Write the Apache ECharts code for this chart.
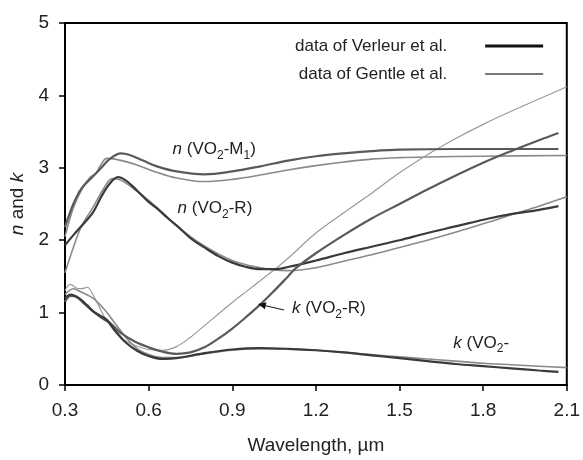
<!DOCTYPE html>
<html>
<head>
<meta charset="utf-8">
<script src="https://cdn.jsdelivr.net/npm/echarts@6/dist/echarts.min.js"></script>
<style>html,body{margin:0;padding:0;background:#fff}#c{width:583px;height:460px}</style>
</head>
<body>
<div id="c"></div>
<script>
// ---- data (wavelength in µm, value) ----
const xTicks = [0.3, 0.6, 0.9, 1.2, 1.5, 1.8, 2.1];
const yTicks = [0, 1, 2, 3, 4, 5];

const verleurNR = [[0.30,1.93],[0.33,2.07],[0.36,2.2],[0.40,2.38],[0.43,2.6],[0.46,2.78],[0.49,2.87],[0.52,2.82],[0.56,2.68],[0.60,2.53],[0.63,2.44],[0.67,2.3],[0.71,2.17],[0.75,2.03],[0.80,1.9],[0.85,1.78],[0.90,1.69],[0.95,1.63],[1.00,1.6],[1.05,1.6],[1.10,1.63],[1.20,1.72],[1.30,1.82],[1.40,1.91],[1.50,2.0],[1.60,2.1],[1.70,2.19],[1.82,2.3],[1.90,2.36],[2.00,2.42],[2.07,2.47]];
const gentleNR = [[0.30,1.55],[0.33,1.9],[0.36,2.2],[0.40,2.45],[0.44,2.72],[0.47,2.85],[0.50,2.83],[0.55,2.7],[0.60,2.55],[0.65,2.38],[0.70,2.2],[0.75,2.05],[0.80,1.92],[0.85,1.81],[0.90,1.72],[0.95,1.66],[1.00,1.62],[1.05,1.59],[1.10,1.58],[1.20,1.62],[1.30,1.71],[1.40,1.8],[1.50,1.9],[1.60,2.0],[1.70,2.11],[1.82,2.25],[1.90,2.35],[2.00,2.47],[2.10,2.6]];
const verleurNM = [[0.30,2.18],[0.33,2.5],[0.36,2.72],[0.40,2.88],[0.43,3.0],[0.46,3.12],[0.50,3.2],[0.53,3.18],[0.58,3.1],[0.63,3.02],[0.70,2.95],[0.80,2.91],[0.90,2.95],[1.00,3.02],[1.10,3.1],[1.20,3.16],[1.30,3.2],[1.40,3.23],[1.50,3.25],[1.70,3.26],[1.90,3.26],[2.07,3.26]];
const gentleNM = [[0.30,2.05],[0.33,2.45],[0.36,2.7],[0.39,2.87],[0.41,2.92],[0.43,3.05],[0.45,3.13],[0.48,3.12],[0.55,3.05],[0.62,2.95],[0.70,2.86],[0.80,2.81],[0.90,2.84],[1.00,2.9],[1.10,2.97],[1.20,3.03],[1.30,3.08],[1.40,3.12],[1.50,3.14],[1.60,3.15],[1.80,3.16],[2.10,3.17]];
const verleurKR = [[0.30,1.15],[0.32,1.23],[0.34,1.22],[0.37,1.12],[0.40,1.02],[0.43,0.93],[0.46,0.86],[0.50,0.72],[0.55,0.6],[0.60,0.52],[0.65,0.46],[0.70,0.43],[0.75,0.45],[0.80,0.52],[0.85,0.64],[0.90,0.78],[0.95,0.94],[1.00,1.11],[1.05,1.3],[1.10,1.5],[1.13,1.62],[1.20,1.82],[1.30,2.07],[1.40,2.3],[1.50,2.5],[1.60,2.7],[1.70,2.89],[1.80,3.07],[1.90,3.23],[2.00,3.38],[2.07,3.48]];
const gentleKR = [[0.30,1.3],[0.31,1.37],[0.32,1.39],[0.34,1.34],[0.36,1.33],[0.38,1.35],[0.40,1.25],[0.42,1.1],[0.44,0.95],[0.47,0.78],[0.50,0.65],[0.55,0.55],[0.60,0.49],[0.65,0.48],[0.70,0.53],[0.75,0.66],[0.80,0.82],[0.85,0.98],[0.90,1.14],[0.95,1.29],[1.00,1.44],[1.06,1.62],[1.10,1.75],[1.20,2.1],[1.30,2.38],[1.40,2.65],[1.50,2.93],[1.60,3.18],[1.70,3.4],[1.80,3.6],[1.90,3.78],[2.00,3.95],[2.10,4.12]];
const verleurKM = [[0.30,1.2],[0.32,1.25],[0.35,1.2],[0.38,1.1],[0.40,1.02],[0.42,0.97],[0.45,0.9],[0.48,0.75],[0.52,0.58],[0.56,0.47],[0.60,0.4],[0.65,0.36],[0.70,0.37],[0.80,0.44],[0.90,0.49],[1.00,0.51],[1.10,0.5],[1.20,0.48],[1.30,0.45],[1.40,0.41],[1.50,0.37],[1.60,0.33],[1.70,0.29],[1.80,0.26],[1.90,0.23],[2.00,0.2],[2.07,0.18]];
const gentleKM = [[0.30,1.25],[0.33,1.33],[0.36,1.28],[0.40,1.2],[0.44,1.05],[0.48,0.85],[0.52,0.65],[0.56,0.5],[0.60,0.42],[0.65,0.38],[0.70,0.38],[0.80,0.43],[0.90,0.48],[1.00,0.5],[1.10,0.5],[1.20,0.48],[1.30,0.45],[1.40,0.42],[1.50,0.39],[1.60,0.36],[1.70,0.33],[1.80,0.3],[1.90,0.28],[2.00,0.26],[2.10,0.24]];

const nameV = 'data of Verleur et al.';
const nameG = 'data of Gentle et al.';

// annotation anchors (data coordinates)
const labelAnchors = [
  {text: '{i|n} (VO{s|2}-M{s|1})', at: [0.686, 3.25]},
  {text: '{i|n} (VO{s|2}-R)', at: [0.704, 2.44]},
  {text: '{i|k} (VO{s|2}-R)', at: [1.114, 1.06]},
  {text: '{i|k} (VO{s|2}-', at: [1.693, 0.58]}
];
const arrowFrom = [1.086, 1.036];
const arrowTo = [0.992, 1.12];

const FONT = '"Liberation Sans", Arial, sans-serif';
const chart = echarts.init(document.getElementById('c'));

function mk(name, data, color, width) {
  return {type: 'line', name, data, smooth: 0.35, showSymbol: false, symbol: 'none',
    lineStyle: {color, width}, itemStyle: {color}, silent: true, z: 3};
}

chart.setOption({
  animation: false,
  backgroundColor: '#fff',
  textStyle: {fontFamily: FONT, color: '#222'},
  grid: {left: 65, right: 14, top: 23, bottom: 75, show: true, borderColor: '#000', borderWidth: 2, backgroundColor: 'transparent'},
  legend: {
    left: 290, top: 31, orient: 'vertical', align: 'right', itemWidth: 58, itemHeight: 14, itemGap: 8,
    selectedMode: false,
    textStyle: {fontFamily: FONT, fontSize: 17, color: '#222', lineHeight: 20, padding: [0, 33, 0, 0]},
    data: [
      {name: nameV, lineStyle: {color: '#111', width: 3}, itemStyle: {color: '#111', opacity: 0}},
      {name: nameG, lineStyle: {color: '#777', width: 2}, itemStyle: {color: '#777', opacity: 0}}
    ]
  },
  xAxis: {
    type: 'value', min: xTicks[0], max: xTicks[xTicks.length - 1], interval: 0.3,
    name: 'Wavelength, \u00b5m', nameLocation: 'middle', nameGap: 51,
    nameTextStyle: {fontFamily: FONT, fontSize: 19, color: '#222'},
    axisLine: {show: true, lineStyle: {color: '#000', width: 2}},
    axisTick: {show: true, inside: false, length: 6, lineStyle: {color: '#000', width: 1.5}},
    axisLabel: {fontFamily: FONT, fontSize: 19, color: '#222', margin: 16, formatter: v => (Math.round(v * 10) / 10).toFixed(1)},
    splitLine: {show: false}
  },
  yAxis: {
    type: 'value', min: yTicks[0], max: yTicks[yTicks.length - 1], interval: 1,
    name: '{i|n} and {i|k}', nameLocation: 'middle', nameGap: 36, nameRotate: 90,
    nameTextStyle: {fontFamily: FONT, fontSize: 19, color: '#222', rich: {i: {fontFamily: FONT, fontSize: 19, fontStyle: 'italic', color: '#222'}}},
    axisLine: {show: true, lineStyle: {color: '#000', width: 2}},
    axisTick: {show: true, inside: false, length: 6, lineStyle: {color: '#000', width: 1.5}},
    axisLabel: {fontFamily: FONT, fontSize: 19, color: '#222', margin: 16},
    splitLine: {show: false}
  },
  series: [
    mk(nameG, gentleNR, '#8a8a8a', 1.6),
    mk(nameG, gentleNM, '#8a8a8a', 1.6),
    mk(nameG, gentleKR, '#9a9a9a', 1.2),
    mk(nameG, gentleKM, '#8a8a8a', 1.6),
    mk(nameV, verleurNR, '#3a3a3a', 2.2),
    mk(nameV, verleurNM, '#5a5a5a', 2.2),
    mk(nameV, verleurKR, '#5a5a5a', 2.2),
    mk(nameV, verleurKM, '#3a3a3a', 2.2)
  ]
});

const rich = {
  i: {fontFamily: FONT, fontSize: 17, fontStyle: 'italic', color: '#222', lineHeight: 24},
  s: {fontFamily: FONT, fontSize: 12, color: '#222', verticalAlign: 'bottom', lineHeight: 14}
};
const graphics = labelAnchors.map(a => {
  const p = chart.convertToPixel({gridIndex: 0}, a.at);
  return {type: 'text', x: p[0], y: p[1], z: 10,
    style: {text: a.text, fontFamily: FONT, fontSize: 17, fill: '#222', verticalAlign: 'middle', align: 'left', lineHeight: 24, rich}};
});
const p1 = chart.convertToPixel({gridIndex: 0}, arrowFrom);
const p2 = chart.convertToPixel({gridIndex: 0}, arrowTo);
const ang = Math.atan2(p2[1] - p1[1], p2[0] - p1[0]);
const hl = 8, hw = 3.5;
const bx = p2[0] - hl * Math.cos(ang), by = p2[1] - hl * Math.sin(ang);
graphics.push({type: 'line', z: 10, shape: {x1: p1[0], y1: p1[1], x2: bx, y2: by}, style: {stroke: '#222', lineWidth: 1.2}});
graphics.push({type: 'polygon', z: 10, shape: {points: [
  [p2[0], p2[1]],
  [bx + hw * Math.sin(ang), by - hw * Math.cos(ang)],
  [bx - hw * Math.sin(ang), by + hw * Math.cos(ang)]
]}, style: {fill: '#111'}});
chart.setOption({graphic: graphics});
</script>
</body>
</html>
